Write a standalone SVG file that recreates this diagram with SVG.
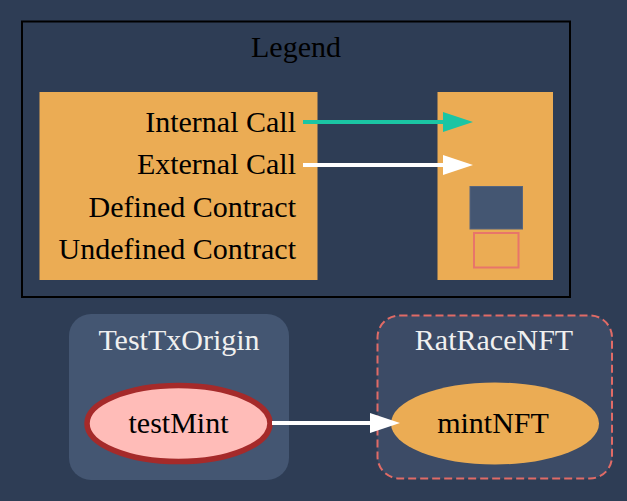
<svg xmlns="http://www.w3.org/2000/svg" width="627" height="501" viewBox="0 0 627 501">
<defs>
<style>
text{font-family:"Liberation Serif","Times New Roman",serif;font-size:30px;}
.lbl{fill:#000;text-anchor:end;}
.cl{fill:#f0f0f0;text-anchor:middle;}
.nd{fill:#000;text-anchor:middle;}
</style>
</defs>
<rect x="0" y="0" width="627" height="501" fill="#2e3d55"/>
<g id="legend">
<rect x="22" y="21.5" width="548" height="275.5" fill="none" stroke="#000" stroke-width="2"/>
<text x="296" y="57" text-anchor="middle" fill="#000">Legend</text>
<rect x="39.5" y="92" width="278" height="188" fill="#ebac54"/>
<text class="lbl" x="296" y="132">Internal Call</text>
<text class="lbl" x="296" y="174">External Call</text>
<text class="lbl" x="296" y="217">Defined Contract</text>
<text class="lbl" x="296" y="259">Undefined Contract</text>
<rect x="437.5" y="92" width="115.5" height="188" fill="#ebac54"/>
<rect x="470" y="186.5" width="52.5" height="42.5" fill="#445672" stroke="#56657e" stroke-width="1"/>
<rect x="474" y="233" width="44.5" height="34.5" fill="none" stroke="#e8756a" stroke-width="2"/>
</g>
<g id="cluster_TestTxOrigin">
<rect x="69" y="314" width="220" height="166" rx="22" ry="22" fill="#445672"/>
<text class="cl" x="179" y="350">TestTxOrigin</text>
</g>
<g id="cluster_RatRaceNFT">
<rect x="377.5" y="315.5" width="234.5" height="163" rx="22" ry="22" fill="#3c4b66" stroke="#e06b66" stroke-width="2" stroke-dasharray="8,4"/>
<text class="cl" x="494" y="350">RatRaceNFT</text>
</g>
<g id="node_testMint">
<ellipse cx="178.5" cy="423.5" rx="91.5" ry="38" fill="#ffbcb8" stroke="#a52a2a" stroke-width="5.5"/>
<text class="nd" x="178.5" y="433">testMint</text>
</g>
<g id="node_mintNFT">
<ellipse cx="495" cy="423.5" rx="104" ry="41" fill="#ebac54"/>
<text class="nd" x="493" y="433">mintNFT</text>
</g>
<g id="connectors">
<line x1="303" y1="122" x2="445" y2="122" stroke="#1bc5a4" stroke-width="4"/>
<path d="M443,112 L473,122 L443,132 Z" fill="#1bc5a4"/>
<line x1="303" y1="165" x2="445" y2="165" stroke="#ffffff" stroke-width="4"/>
<path d="M443,155 L473,165 L443,175 Z" fill="#ffffff"/>
<line x1="272" y1="423" x2="372" y2="423" stroke="#ffffff" stroke-width="4"/>
<path d="M370,413 L400,423 L370,433 Z" fill="#ffffff"/>
</g>
</svg>
